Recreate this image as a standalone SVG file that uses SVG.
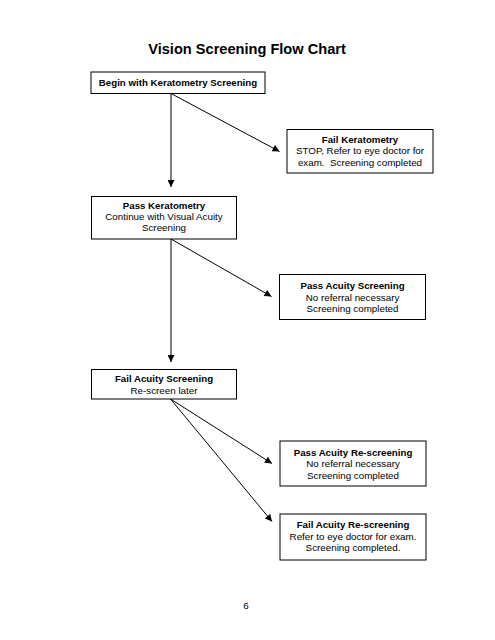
<svg xmlns="http://www.w3.org/2000/svg" width="495" height="640" viewBox="0 0 495 640">
<style>
.box{fill:#fff;stroke:#000;stroke-width:1}
.t{font-family:"Liberation Sans",Arial,sans-serif;font-size:9.8px;fill:#000;text-anchor:middle;white-space:pre}
.b{font-weight:bold;font-size:9.7px}
.title{font-family:"Liberation Sans",Arial,sans-serif;font-size:14.6px;font-weight:bold;text-anchor:middle;fill:#000}
.c{stroke:#000;stroke-width:1;fill:none;marker-end:url(#ah)}
</style>
<defs>
<marker id="ah" viewBox="0 0 10 10" refX="10" refY="5" markerWidth="8" markerHeight="7" markerUnits="userSpaceOnUse" orient="auto">
<path d="M0,0 L10,5 L0,10 z" fill="#000"/>
</marker>
</defs>
<rect width="495" height="640" fill="#fff"/>
<text class="title" x="247" y="54">Vision Screening Flow Chart</text>

<g id="connectors">
<line class="c" x1="171" y1="93.5" x2="171" y2="187"/>
<line class="c" x1="171" y1="93.5" x2="279.5" y2="151.5"/>
<line class="c" x1="171" y1="239" x2="171" y2="362"/>
<line class="c" x1="171" y1="239" x2="271.5" y2="296.5"/>
<line class="c" x1="170.5" y1="399" x2="272" y2="463.5"/>
<line class="c" x1="170.5" y1="399" x2="272" y2="521.5"/>
</g>

<g id="begin">
<rect class="box" x="91" y="72" width="174" height="21.5"/>
<text class="t b" x="178" y="86.3">Begin with Keratometry Screening</text>
</g>

<g id="fail-kerato">
<rect class="box" x="287" y="129.5" width="146" height="43.5"/>
<text class="t b" x="360" y="142.5">Fail Keratometry</text>
<text class="t" x="360" y="154">STOP, Refer to eye doctor for</text>
<text class="t" x="360" y="165.5" xml:space="preserve">exam.  Screening completed</text>
</g>

<g id="pass-kerato">
<rect class="box" x="91.5" y="196.5" width="145" height="42.5"/>
<text class="t b" x="164" y="208.5">Pass Keratometry</text>
<text class="t" x="164" y="219.8">Continue with Visual Acuity</text>
<text class="t" x="164" y="231">Screening</text>
</g>

<g id="pass-acuity">
<rect class="box" x="279.5" y="274.5" width="146" height="45"/>
<text class="t b" x="352.5" y="289">Pass Acuity Screening</text>
<text class="t" x="352.5" y="300.5">No referral necessary</text>
<text class="t" x="352.5" y="312">Screening completed</text>
</g>

<g id="fail-acuity">
<rect class="box" x="91.5" y="369.5" width="145" height="29.5"/>
<text class="t b" x="164" y="382">Fail Acuity Screening</text>
<text class="t" x="164" y="393.5">Re-screen later</text>
</g>

<g id="pass-rescreen">
<rect class="box" x="280" y="441" width="146" height="45"/>
<text class="t b" x="353" y="455.5">Pass Acuity Re-screening</text>
<text class="t" x="353" y="467">No referral necessary</text>
<text class="t" x="353" y="478.5">Screening completed</text>
</g>

<g id="fail-rescreen">
<rect class="box" x="280" y="514" width="146" height="46"/>
<text class="t b" x="353" y="528">Fail Acuity Re-screening</text>
<text class="t" x="353" y="539.5">Refer to eye doctor for exam.</text>
<text class="t" x="353" y="551">Screening completed.</text>
</g>

<text class="t" x="246" y="609">6</text>
</svg>
